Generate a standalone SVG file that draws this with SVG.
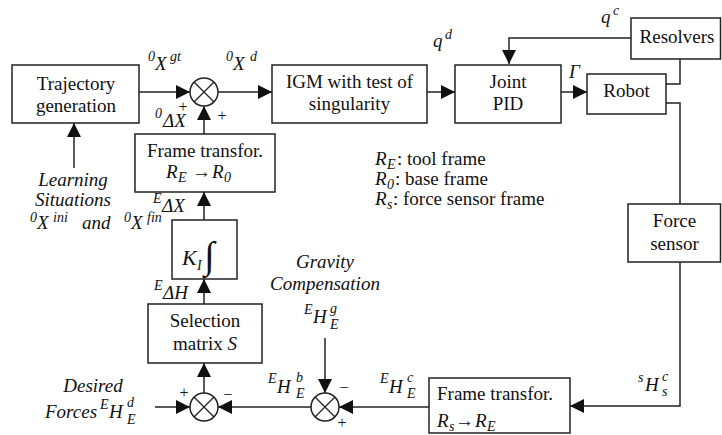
<svg xmlns="http://www.w3.org/2000/svg" width="722" height="435" viewBox="0 0 722 435">
<defs>
<style>
.b{fill:#fff;stroke:#222;stroke-width:1.5}
.l{fill:none;stroke:#222;stroke-width:1.5}
.x{fill:none;stroke:#222;stroke-width:1.3}
.t{font-family:"Liberation Serif","Times New Roman",serif;font-size:19px;fill:#111}
.c{text-anchor:middle}
.i{font-style:italic}
.s{font-size:14px}
.p{font-size:16px}
</style>
<marker id="ah" markerUnits="userSpaceOnUse" markerWidth="14" markerHeight="14" refX="14" refY="7" orient="auto">
<path d="M0,0 L14,7 L0,14 z" fill="#111"/>
</marker>
</defs>
<rect width="722" height="435" fill="#fff"/>

<g id="connectors" class="l" marker-end="url(#ah)">
<path d="M139,92 H190"/>
<path d="M218,92 H272"/>
<path d="M427,92 H455"/>
<path d="M561,92 H587"/>
<path d="M631,38 H509 V64"/>
<path d="M666,84 H680 V59" marker-end="none"/>
<path d="M666,103 H680 V204" marker-end="none"/>
<path d="M680,262 V406 H570"/>
<path d="M429,407 H339"/>
<path d="M311,407 H218"/>
<path d="M155,407 H190"/>
<path d="M325,338 V393"/>
<path d="M204,393 V363"/>
<path d="M204,304 V279"/>
<path d="M204,220 V192"/>
<path d="M204,134 V106"/>
<path d="M74,168 V123"/>
</g>

<g id="traj">
<rect class="b" x="12" y="65" width="127" height="58"/>
<text class="t c" x="76" y="90">Trajectory</text>
<text class="t c" x="76" y="112">generation</text>
</g>

<g id="sum1">
<circle class="b" cx="204" cy="92" r="14"/>
<path class="x" d="M194,82 L214,102 M194,102 L214,82"/>
</g>

<g id="igm">
<rect class="b" x="272" y="65" width="155" height="58"/>
<text class="t c" x="349.5" y="88">IGM with test of</text>
<text class="t c" x="349.5" y="110">singularity</text>
</g>

<g id="pid">
<rect class="b" x="455" y="65" width="106" height="58"/>
<text class="t c" x="508" y="88">Joint</text>
<text class="t c" x="508" y="110">PID</text>
</g>

<g id="robot">
<rect class="b" x="587" y="74" width="79" height="40"/>
<text class="t c" x="626.5" y="97">Robot</text>
</g>

<g id="resolvers">
<rect class="b" x="631" y="18" width="89.5" height="41"/>
<text class="t c" x="677" y="43">Resolvers</text>
</g>

<g id="forcesensor">
<rect class="b" x="628" y="204" width="92.5" height="58"/>
<text class="t c" x="674.5" y="227">Force</text>
<text class="t c" x="674.5" y="250">sensor</text>
</g>

<g id="frame1">
<rect class="b" x="135" y="134" width="140" height="58"/>
<text class="t c" x="205" y="157">Frame transfor.</text>
<text class="t"><tspan class="i" x="166" y="178">R</tspan><tspan class="i s" x="178" y="182">E</tspan><tspan x="192" y="178">→</tspan><tspan class="i" x="212" y="178">R</tspan><tspan class="i s" x="224" y="182">0</tspan></text>
</g>

<g id="ki">
<rect class="b" x="172" y="220" width="65" height="59"/>
<text class="t i" x="182" y="265" style="font-size:22px">K</text>
<text class="t i s" x="197" y="270">I</text>
<text class="t" x="204" y="268" style="font-size:38px">∫</text>
</g>

<g id="selection">
<rect class="b" x="148" y="304" width="114" height="59"/>
<text class="t c" x="205" y="327">Selection</text>
<text class="t c" x="205" y="350">matrix <tspan class="i">S</tspan></text>
</g>

<g id="sum2">
<circle class="b" cx="204" cy="407" r="14"/>
<path class="x" d="M194,397 L214,417 M194,417 L214,397"/>
</g>

<g id="sum3">
<circle class="b" cx="325" cy="407" r="14"/>
<path class="x" d="M315,397 L335,417 M315,417 L335,397"/>
</g>

<g id="frame2">
<rect class="b" x="429" y="378" width="141" height="55"/>
<text class="t" x="437" y="400">Frame transfor.</text>
<text class="t"><tspan class="i" x="437" y="427">R</tspan><tspan class="i s" x="449" y="431">s</tspan><tspan x="455" y="427">→</tspan><tspan class="i" x="475" y="427">R</tspan><tspan class="i s" x="487" y="431">E</tspan></text>
</g>

<g id="labels">
<text class="t i c" x="73" y="186">Learning</text>
<text class="t i c" x="73" y="206">Situations</text>
<text class="t i"><tspan class="s" x="30" y="222">0</tspan><tspan x="37" y="229">X</tspan><tspan class="s" x="53" y="222">ini</tspan><tspan x="82" y="229">and</tspan><tspan class="s" x="124" y="222">0</tspan><tspan x="131" y="229">X</tspan><tspan class="s" x="147" y="222">fin</tspan></text>

<text class="t i"><tspan class="s" x="148" y="61">0</tspan><tspan x="155" y="70">X</tspan><tspan class="s" x="170" y="61">gt</tspan></text>
<text class="t i"><tspan class="s" x="226" y="61">0</tspan><tspan x="233" y="70">X</tspan><tspan class="s" x="250" y="61">d</tspan></text>
<text class="t i"><tspan class="s" x="155" y="118">0</tspan><tspan x="163" y="127">ΔX</tspan></text>
<text class="t p c" x="183" y="112">+</text>
<text class="t p c" x="222" y="121">+</text>

<text class="t i"><tspan x="433" y="47">q</tspan><tspan class="s" x="445" y="39">d</tspan></text>
<text class="t i"><tspan x="601" y="23">q</tspan><tspan class="s" x="613" y="15">c</tspan></text>
<text class="t i" x="569" y="78">Γ</text>

<text class="t"><tspan class="i" x="375" y="165">R</tspan><tspan class="i s" x="387" y="169">E</tspan><tspan x="397" y="165">: tool frame</tspan></text>
<text class="t"><tspan class="i" x="375" y="185">R</tspan><tspan class="i s" x="387" y="189">0</tspan><tspan x="395" y="185">: base frame</tspan></text>
<text class="t"><tspan class="i" x="375" y="205">R</tspan><tspan class="i s" x="387" y="209">s</tspan><tspan x="393" y="205">: force sensor frame</tspan></text>

<text class="t i"><tspan class="s" x="153" y="203">E</tspan><tspan x="162" y="212">ΔX</tspan></text>
<text class="t i"><tspan class="s" x="154" y="290">E</tspan><tspan x="163" y="299">ΔH</tspan></text>

<text class="t i c" x="325" y="268">Gravity</text>
<text class="t i c" x="325" y="290">Compensation</text>
<text class="t i"><tspan class="s" x="304" y="314">E</tspan><tspan x="313" y="323">H</tspan><tspan class="s" x="330" y="313">g</tspan><tspan class="s" x="330" y="329">E</tspan></text>

<text class="t i"><tspan class="s" x="268" y="383">E</tspan><tspan x="277" y="393">H</tspan><tspan class="s" x="296" y="382">b</tspan><tspan class="s" x="296" y="398">E</tspan></text>
<text class="t i"><tspan class="s" x="380" y="383">E</tspan><tspan x="389" y="393">H</tspan><tspan class="s" x="407" y="382">c</tspan><tspan class="s" x="407" y="398">E</tspan></text>
<text class="t i"><tspan class="s" x="638" y="382">s</tspan><tspan x="645" y="391">H</tspan><tspan class="s" x="662" y="381">c</tspan><tspan class="s" x="662" y="396">s</tspan></text>

<text class="t i c" x="93" y="392">Desired</text>
<text class="t i"><tspan x="45" y="418">Forces</tspan><tspan class="s" x="100" y="409">E</tspan><tspan x="109" y="418">H</tspan><tspan class="s" x="127" y="407">d</tspan><tspan class="s" x="127" y="424">E</tspan></text>

<text class="t p c" x="184" y="398">+</text>
<text class="t p c" x="228" y="400">−</text>
<text class="t p c" x="344" y="393">−</text>
<text class="t p c" x="342" y="428">+</text>
</g>
</svg>
